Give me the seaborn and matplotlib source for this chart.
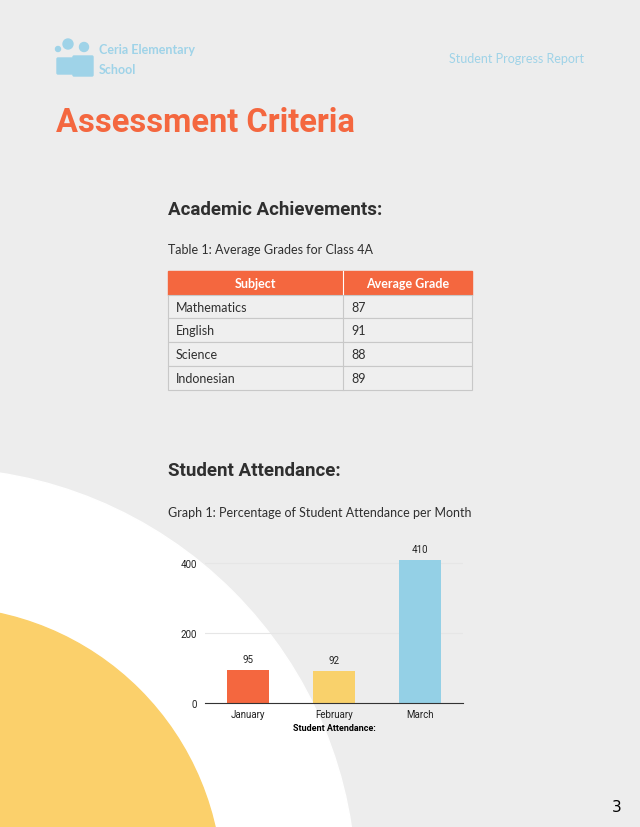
import matplotlib
matplotlib.use("Agg")
import matplotlib.pyplot as plt
import seaborn as sns
import pandas as pd
from matplotlib.patches import Circle, Rectangle, FancyBboxPatch

subjects = ["Mathematics", "English", "Science", "Indonesian"]
grades = [87, 91, 88, 89]
months = ["January", "February", "March"]
attendance = [95, 92, 410]
bar_colors = ["#f4673f", "#f9d16b", "#94d0e6"]

ORANGE = "#f4673f"
BLUE = "#9fd3e8"
DARK = "#2f2f2f"

fig = plt.figure(figsize=(6.4, 8.28), dpi=100)
fig.patch.set_facecolor("#ededed")

# page layer in pixel coordinates
bg = fig.add_axes([0, 0, 1, 1])
bg.set_xlim(0, 640)
bg.set_ylim(828, 0)
bg.axis("off")
bg.add_patch(Circle((-65, 890), 421, color="white", zorder=0))
bg.add_patch(Circle((-60, 890), 282, color="#fbd06b", zorder=1))

# logo
bg.add_patch(Circle((68, 45), 5, color=BLUE))
bg.add_patch(Circle((84, 48), 4.5, color=BLUE))
bg.add_patch(Circle((58, 50), 2.5, color=BLUE))
bg.add_patch(FancyBboxPatch((58, 60), 18, 14, boxstyle="round,pad=1", color=BLUE))
bg.add_patch(FancyBboxPatch((74, 58), 18, 18, boxstyle="round,pad=1", color=BLUE))
bg.text(99, 50, "Ceria Elementary", fontfamily="Lato", fontweight="bold", fontsize=9,
        color=BLUE, va="center")
bg.text(99, 70, "School", fontfamily="Lato", fontweight="bold", fontsize=9, color=BLUE,
        va="center")
bg.text(584, 59, "Student Progress Report", fontfamily="Lato", fontsize=9, color=BLUE,
        va="center", ha="right")

bg.text(56, 123, "Assessment Criteria", fontfamily="Roboto", fontweight="bold", fontsize=23.5,
        color=ORANGE, va="center")
bg.text(168, 210, "Academic Achievements:", fontfamily="Roboto", fontweight="bold",
        fontsize=13.5, color=DARK, va="center")
bg.text(168, 250, "Table 1: Average Grades for Class 4A", fontfamily="Lato", fontsize=9,
        color=DARK, va="center")

# table
x0, x1, x2 = 168, 343, 472
top, rh = 272, 23.7
bg.add_patch(Rectangle((x0, top), x2 - x0, rh, color=ORANGE, zorder=2))
bg.text((x0 + x1) / 2, top + rh / 2, "Subject", fontfamily="Lato", fontweight="bold",
        fontsize=9, color="white", ha="center", va="center", zorder=3)
bg.text((x1 + x2) / 2, top + rh / 2, "Average Grade", fontfamily="Lato", fontweight="bold",
        fontsize=9, color="white", ha="center", va="center", zorder=3)
bg.plot([x1, x1], [top, top + rh], color="white", lw=0.8, zorder=3)
for i, (s, g) in enumerate(zip(subjects, grades)):
    y = top + rh * (i + 1)
    bg.add_patch(Rectangle((x0, y), x2 - x0, rh, facecolor="#efefef", edgecolor="#c8c8c8",
                           lw=0.8, zorder=2))
    bg.plot([x1, x1], [y, y + rh], color="#c8c8c8", lw=0.8, zorder=3)
    bg.text(x0 + 8, y + rh / 2, s, fontfamily="Lato", fontsize=9, color=DARK, va="center", zorder=3)
    bg.text(x1 + 8, y + rh / 2, str(g), fontfamily="Lato", fontsize=9, color=DARK, va="center", zorder=3)

bg.text(168, 471, "Student Attendance:", fontfamily="Roboto", fontweight="bold",
        fontsize=13.5, color=DARK, va="center")
bg.text(168, 513, "Graph 1: Percentage of Student Attendance per Month", fontfamily="Lato",
        fontsize=9, color=DARK, va="center")
bg.text(622, 808, "3", fontfamily="DejaVu Sans", fontsize=11, color="black", ha="right",
        va="center")

# bar chart
ax = fig.add_axes([205 / 640, 124 / 828, 258 / 640, 154 / 828])
ax.patch.set_alpha(0)
df = pd.DataFrame({"month": months, "value": attendance})
sns.barplot(data=df, x="month", y="value", hue="month", palette=bar_colors, legend=False,
            width=0.49, saturation=1, ax=ax, zorder=2)
ax.set_ylim(0, 440)
ax.set_yticks([0, 200, 400])
ax.grid(axis="y", color="#e6e6e6", lw=0.8, zorder=0)
for sp in ["top", "right", "left"]:
    ax.spines[sp].set_visible(False)
ax.spines["bottom"].set_color("#333333")
ax.tick_params(length=0, labelsize=7, colors="#222222", pad=6)
for lab in ax.get_xticklabels() + ax.get_yticklabels():
    lab.set_fontfamily("Roboto")
ax.tick_params(axis="x", pad=4)
ax.set_ylabel("")
ax.set_xlabel("Student Attendance:", fontfamily="Roboto", fontweight="bold", fontsize=6.5,
              labelpad=3)
for c in ax.containers:
    ax.bar_label(c, padding=4, fontsize=7, fontfamily="Roboto", color="#222222")

fig.savefig("out.png", dpi=100)
